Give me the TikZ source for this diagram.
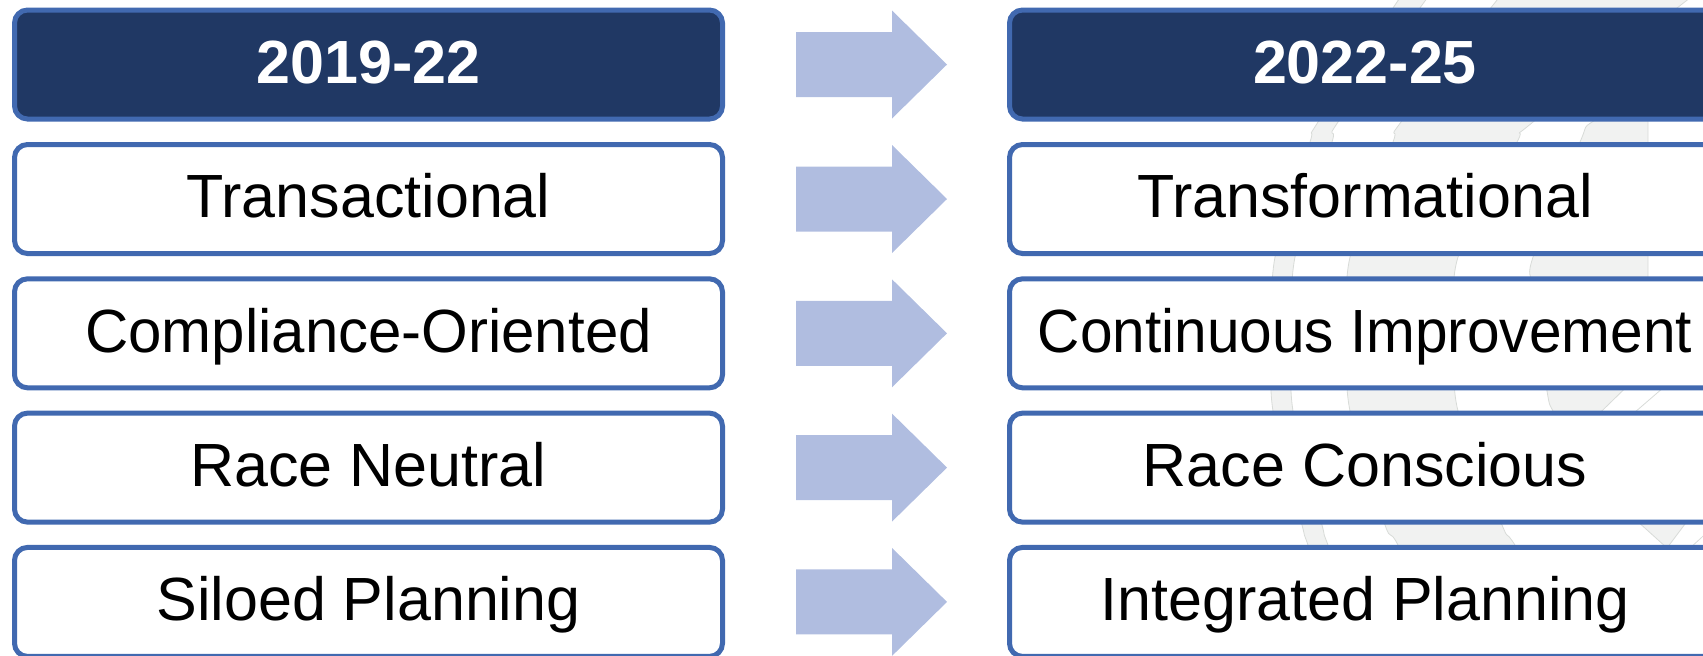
\documentclass[tikz,border=0pt]{standalone}
\usepackage{fontspec}
\usepackage{graphicx}
\setmainfont{Liberation Sans}
\definecolor{bordc}{RGB}{65,105,176}
\definecolor{headc}{RGB}{32,56,100}
\definecolor{arrc}{RGB}{176,189,224}
\definecolor{wmfill}{RGB}{241,242,241}
\definecolor{wmline}{RGB}{216,219,216}
\begin{document}
\begin{tikzpicture}[x=0.5pt,y=-0.5pt,
  box/.style={draw=bordc, line width=2.5pt, rounded corners=6.5pt, fill=white,
    minimum height=54.5pt, text height=21.8pt, text depth=3pt, inner sep=0pt,
    font=\fontsize{30.5pt}{36pt}\selectfont},
  lbox/.style={box, minimum width=354pt},
  rbox/.style={box, minimum width=355.5pt},
  head/.style={fill=headc, text=white, font=\fontsize{30.5pt}{36pt}\selectfont\bfseries},
  blockarrow/.style={fill=arrc, draw=none},
  wm/.style={fill=wmfill, draw=wmline, line width=0.4pt}]
\useasboundingbox (0,0) rectangle (1703,655);
\clip (0,0) rectangle (1703,655);
% faint watermark
\path[wm] plot[smooth] coordinates {(1405,-10) (1318,122) (1310,142) (1275,257) (1272,340) (1273,411) (1302,525) (1308,545) (1350,660)}
  -- plot[smooth] coordinates {(1373,660) (1328,545) (1322,525) (1293,411) (1292,340) (1295,257) (1332,142) (1338,122) (1433,-10)} -- cycle;
\path[wm] plot[smooth] coordinates {(1505,-10) (1401,122) (1393,142) (1350,257) (1347,340) (1350,411) (1385,525) (1398,545) (1455,660)}
  -- plot[smooth] coordinates {(1590,660) (1515,545) (1502,525) (1458,411) (1455,340) (1458,257) (1517,142) (1533,122) (1700,-10)} -- cycle;
\path[wm] plot[smooth] coordinates {(1648,95) (1592,122) (1580,142) (1533,257) (1533,290) (1547,391) (1553,411) (1572,440)}
  -- (1648,366) -- cycle;
\draw[wmline, line width=0.4pt] (1700,356) -- (1620,425);
\path[wm] (1636,520) -- (1688,520) -- (1667,548) -- cycle;
\draw[wmline, line width=0.4pt] (1690,548) -- (1712,528);
% boxes
\node[lbox, head] (l0) at (368.5,64.5) {2019-22};
\node[rbox, head] (r0) at (1365,64.5) {2022-25};
\node[lbox] (l1) at (368.5,199) {Transactional};
\node[rbox] (r1) at (1365,199) {Transformational};
\node[lbox] (l2) at (368.5,333.3) {\scalebox{0.983}[1]{Compliance-Oriented}};
\node[rbox] (r2) at (1365,333.3) {\scalebox{0.96}[1]{Continuous Improvement}};
\node[lbox] (l3) at (368.5,467.6) {Race Neutral};
\node[rbox] (r3) at (1365,467.6) {Race Conscious};
\node[lbox] (l4) at (368.5,601.9) {Siloed Planning};
\node[rbox] (r4) at (1365,601.9) {Integrated Planning};
% block arrows
\foreach \i/\cy in {0/64.5, 1/199, 2/333.3, 3/467.6, 4/601.9}{
  \coordinate (a\i) at (796,\cy);
  \fill[blockarrow] (a\i) ++(0,-32.5) -- ++(96,0) -- ++(0,-21.5) -- ++(55,54)
    -- ++(-55,54) -- ++(0,-21.5) -- ++(-96,0) -- cycle;
}
\end{tikzpicture}
\end{document}
